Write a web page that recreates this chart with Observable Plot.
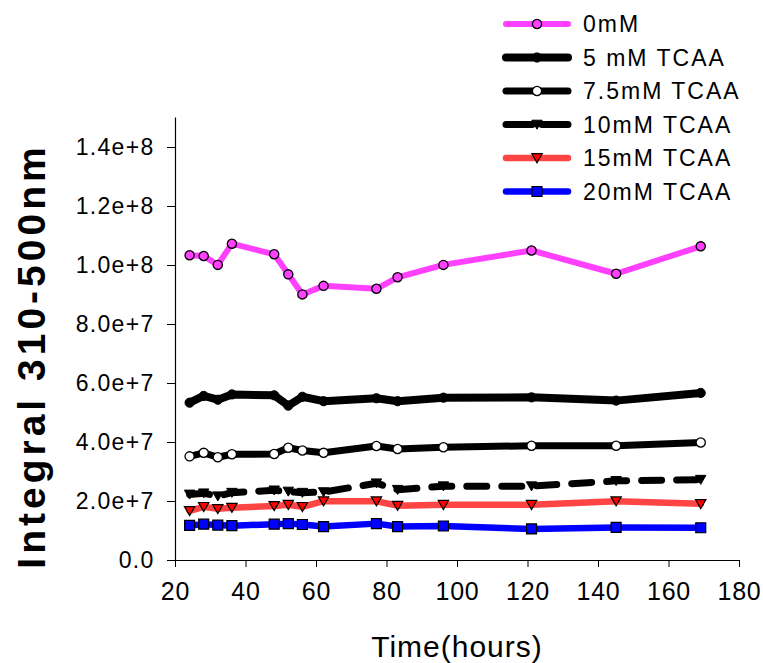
<!DOCTYPE html>
<html><head><meta charset="utf-8">
<script src="https://cdn.jsdelivr.net/npm/d3@7"></script>
<script src="https://cdn.jsdelivr.net/npm/@observablehq/plot@0.6"></script>
<style>
body{margin:0;background:#fff}
#wrap{position:relative;width:763px;height:663px}
#legend{position:absolute;left:0;top:0;pointer-events:none}
#wrap text{font-family:Arial,"Liberation Sans",sans-serif}
#wrap g[aria-label="y-axis tick label"] text{letter-spacing:1.3px}
#wrap g[aria-label="x-axis tick label"] text{letter-spacing:0.8px}
</style></head><body><div id="wrap"></div>
<script>
// ---- data ----
const hours = [24, 28, 32, 36, 48, 52, 56, 62, 77, 83, 96, 121, 145, 169];
const seriesNames = ["0mM", "5 mM TCAA", "7.5mM TCAA", "10mM TCAA", "15mM TCAA", "20mM TCAA"];
const s0mM   = [1.035e8, 1.032e8, 1.002e8, 1.074e8, 1.038e8, 0.970e8, 0.902e8, 0.931e8, 0.921e8, 0.960e8, 1.002e8, 1.051e8, 0.972e8, 1.065e8];
const s5mM   = [5.35e7, 5.58e7, 5.45e7, 5.63e7, 5.60e7, 5.25e7, 5.55e7, 5.40e7, 5.50e7, 5.40e7, 5.52e7, 5.53e7, 5.42e7, 5.68e7];
const s7_5mM = [3.53e7, 3.65e7, 3.50e7, 3.60e7, 3.61e7, 3.82e7, 3.73e7, 3.65e7, 3.88e7, 3.78e7, 3.84e7, 3.89e7, 3.89e7, 4.00e7];
const s10mM  = [2.24e7, 2.28e7, 2.18e7, 2.30e7, 2.38e7, 2.34e7, 2.30e7, 2.32e7, 2.62e7, 2.40e7, 2.52e7, 2.52e7, 2.70e7, 2.74e7];
const s15mM  = [1.68e7, 1.82e7, 1.75e7, 1.79e7, 1.85e7, 1.89e7, 1.82e7, 2.01e7, 2.01e7, 1.86e7, 1.89e7, 1.89e7, 2.01e7, 1.92e7];
const s20mM  = [1.19e7, 1.23e7, 1.20e7, 1.18e7, 1.23e7, 1.25e7, 1.22e7, 1.15e7, 1.25e7, 1.15e7, 1.17e7, 1.07e7, 1.12e7, 1.11e7];
const xTicks = [20, 40, 60, 80, 100, 120, 140, 160, 180];
const yTicks = [0, 2e7, 4e7, 6e7, 8e7, 1e8, 1.2e8, 1.4e8];
const yTickLabels = ["0.0", "2.0e+7", "4.0e+7", "6.0e+7", "8.0e+7", "1.0e+8", "1.2e+8", "1.4e+8"];
const xTitle = "Time(hours)";
const yTitle = "Integral 310-500nm";

// ---- symbols ----
const downTri = {draw(ctx){ ctx.moveTo(-5.2,-4.3); ctx.lineTo(5.2,-4.3); ctx.lineTo(0,4.7); ctx.closePath(); }};
const square  = {draw(ctx){ ctx.moveTo(-5,-5); ctx.lineTo(5,-5); ctx.lineTo(5,5); ctx.lineTo(-5,5); ctx.closePath(); }};
const circle  = {draw(ctx){ ctx.moveTo(4.6,0); ctx.arc(0,0,4.6,0,2*Math.PI); }};

const styles = [
  {line:"#ff40ff", w:6, dash:null, sym:circle, fill:"#ff40ff", stroke:"#000", sw:1.3},
  {line:"#000000", w:8, dash:null, sym:circle, fill:"#000", stroke:"#000", sw:1},
  {line:"#000000", w:7, dash:null, sym:circle, fill:"#fff", stroke:"#000", sw:1.3},
  {line:"#000000", w:7, dash:"20,15", sym:downTri, fill:"#000", stroke:"#000", sw:1},
  {line:"#ff4444", w:6.5, dash:null, sym:downTri, fill:"#ff0000", stroke:"#000", sw:1.2},
  {line:"#0000ff", w:6.5, dash:null, sym:square, fill:"#0000ff", stroke:"#000", sw:1.2}
];
const allSeries = [s0mM, s5mM, s7_5mM, s10mM, s15mM, s20mM];
const tables = allSeries.map((vals, k) => hours.map((h, i) => ({h, v: vals[i], s: seriesNames[k]})));

const marks = [];
tables.forEach((tab, k) => {
  const st = styles[k];
  marks.push(Plot.line(tab, {x:"h", y:"v", stroke: st.line, strokeWidth: st.w,
    strokeLinecap:"round", strokeLinejoin:"round", strokeDasharray: st.dash ?? undefined}));
  marks.push(Plot.dot(tab, {x:"h", y:"v", symbol: st.sym, r: 5, fill: st.fill, stroke: st.stroke, strokeWidth: st.sw}));
});

const plot = Plot.plot({
  width: 763, height: 663,
  marginLeft: 175, marginRight: 24, marginTop: 117.5, marginBottom: 103,
  style: {fontFamily: "Arial, 'Liberation Sans', sans-serif", background: "white", color: "black"},
  x: {domain: [20, 180]},
  y: {domain: [0, 1.5e8]},
  marks: [
    Plot.ruleX([20], {y1: 0, y2: 1.5e8, stroke: "black", strokeWidth: 1.2}),
    Plot.ruleY([0], {x1: 20, x2: 180, stroke: "black", strokeWidth: 1.2}),
    Plot.axisX({ticks: xTicks, tickSize: 7, tickPadding: 15, fontSize: 25, label: null, tickFormat: d => String(d)}),
    Plot.axisY({ticks: yTicks, tickSize: 8, tickPadding: 13, fontSize: 23, label: null,
      tickFormat: d => yTickLabels[yTicks.indexOf(d)]}),
    ...marks
  ]
});
const wrap = document.getElementById("wrap");
wrap.appendChild(plot);

// ---- titles and legend (overlay) ----
const leg = d3.select(wrap).append("svg").attr("id","legend").attr("width",763).attr("height",663);
leg.append("text").attr("transform", "translate(45,356) rotate(-90)").attr("text-anchor", "middle")
  .attr("font-size", 39).attr("font-weight", "bold").attr("letter-spacing", "4px").attr("fill", "black").text(yTitle);
leg.append("text").attr("x", 457).attr("y", 657).attr("text-anchor", "middle")
  .attr("font-size", 30).attr("letter-spacing", "1px").attr("fill", "black").text(xTitle);

const rowY = [24, 57.5, 91, 124.5, 158, 191.5];
seriesNames.forEach((name, k) => {
  const st = styles[k];
  const g = leg.append("g").attr("transform", `translate(0,${rowY[k]})`);
  g.append("line").attr("x1", 506).attr("x2", 568).attr("y1", 0).attr("y2", 0)
    .attr("stroke", st.line).attr("stroke-width", st.w).attr("stroke-linecap", "round")
    .attr("stroke-dasharray", st.dash ? "26,10" : null);
  g.append("path").attr("transform", "translate(537,0)")
    .attr("d", d3.symbol().type(st.sym)())
    .attr("fill", st.fill).attr("stroke", st.stroke).attr("stroke-width", st.sw);
  g.append("text").attr("x", 583).attr("y", 8).attr("font-size", 23).attr("letter-spacing", "2px")
    .attr("fill", "black").text(name);
});
</script></body></html>
